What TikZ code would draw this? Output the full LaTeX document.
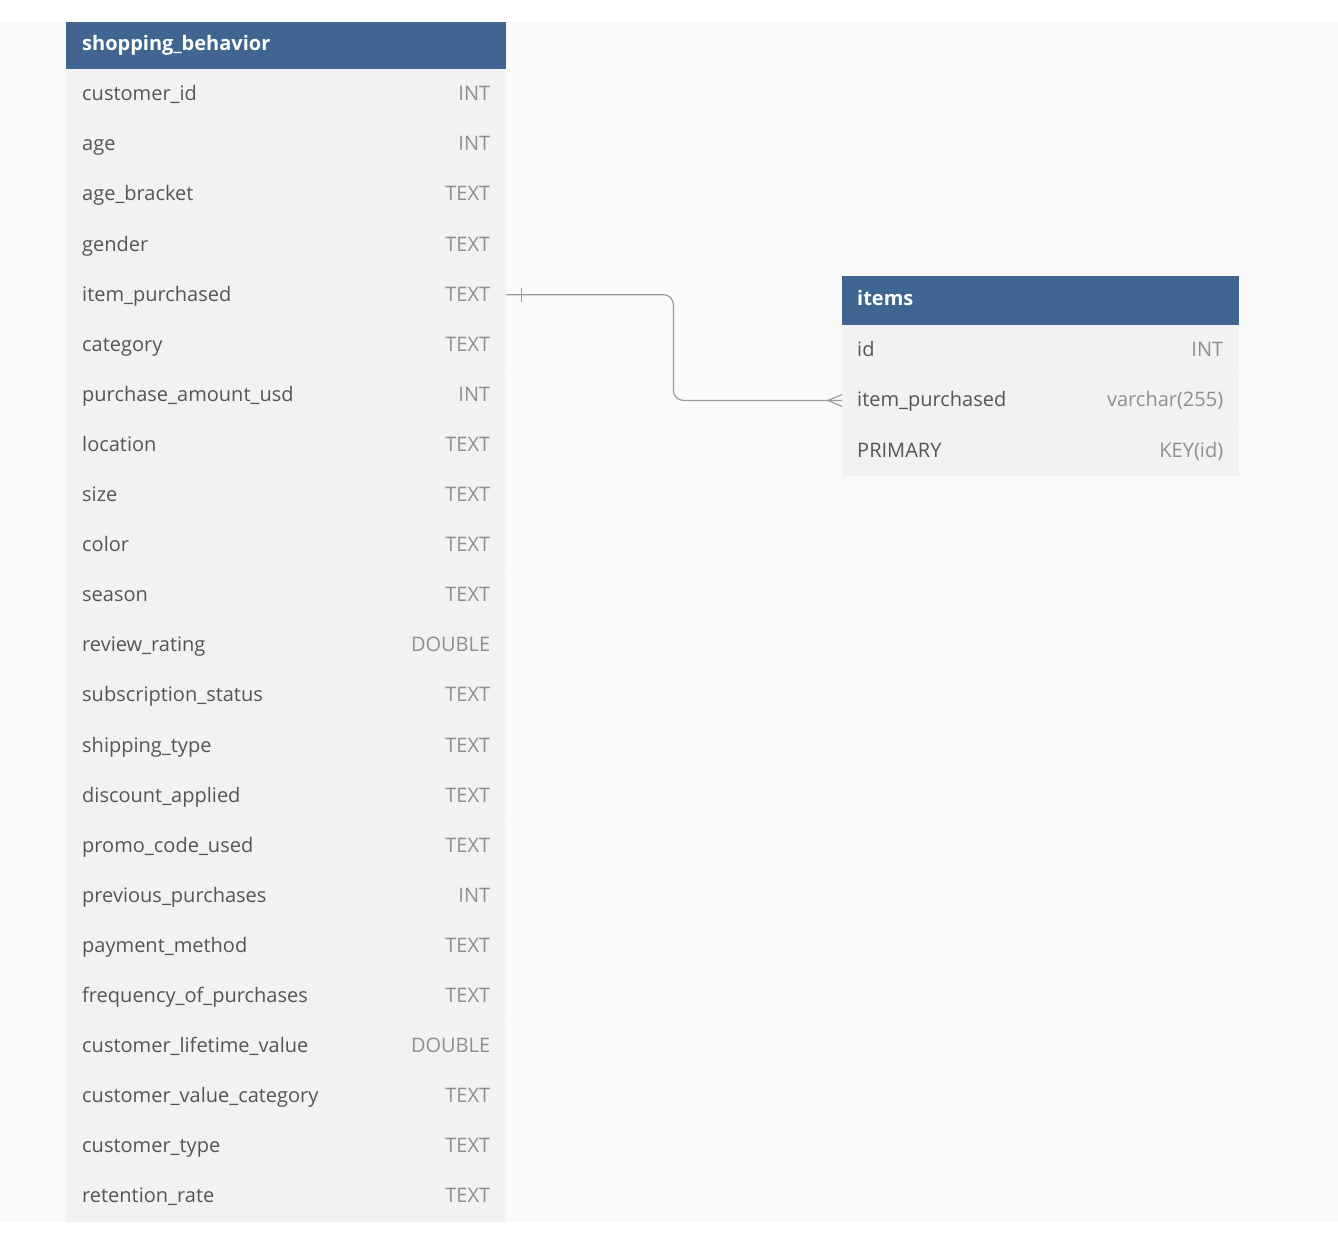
\documentclass[tikz,border=0pt]{standalone}
\usepackage{fontspec}
\setmainfont{Open Sans}
\usetikzlibrary{positioning}
\definecolor{hdblue}{HTML}{3F6590}
\definecolor{rowgray}{HTML}{F2F2F2}
\definecolor{bggray}{HTML}{FAFAFA}
\definecolor{namegray}{HTML}{555555}
\definecolor{typegray}{HTML}{8F8F8F}
\definecolor{relgray}{HTML}{9A9BA3}

\begin{document}
\begin{tikzpicture}[x=1pt, y=-1pt,
  font=\fontsize{20}{24}\selectfont,
  tblhead/.style={rectangle, fill=hdblue, inner sep=0pt, minimum height=47pt, anchor=north west},
  tblrow/.style={rectangle, fill=rowgray, inner sep=0pt, minimum height=50.1pt, anchor=north west},
  headtext/.style={text=white, font=\fontsize{20}{24}\selectfont\bfseries, anchor=west, inner sep=0pt,
    text height=14pt, text depth=5pt},
  colname/.style={text=namegray, anchor=west, inner sep=0pt, text height=16pt, text depth=3pt},
  coltype/.style={text=typegray, anchor=east, inner sep=0pt, text height=16pt, text depth=3pt},
  rel/.style={draw=relgray, line width=1.2pt}]
  \useasboundingbox (0,0) rectangle (1338,1245);
  \fill[bggray] (0,22) rectangle (1338,1222);

  % shopping_behavior table
  \node[tblhead, minimum width=440pt] (sb) at (66,22) {};
  \node[headtext] at ([xshift=16pt]sb.west) {shopping\_behavior};
  \foreach \i/\n/\t in {1/customer\_id/INT, 2/age/INT, 3/age\_bracket/TEXT, 4/gender/TEXT,
      5/item\_purchased/TEXT, 6/category/TEXT, 7/purchase\_amount\_usd/INT, 8/location/TEXT,
      9/size/TEXT, 10/color/TEXT, 11/season/TEXT, 12/review\_rating/DOUBLE,
      13/subscription\_status/TEXT, 14/shipping\_type/TEXT, 15/discount\_applied/TEXT,
      16/promo\_code\_used/TEXT, 17/previous\_purchases/INT, 18/payment\_method/TEXT,
      19/frequency\_of\_purchases/TEXT, 20/customer\_lifetime\_value/DOUBLE,
      21/customer\_value\_category/TEXT, 22/customer\_type/TEXT, 23/retention\_rate/TEXT}
  {
    \node[tblrow, minimum width=440pt] (sb-\i) at (66,{69+50.1*(\i-1)}) {};
    \node[colname] at ([xshift=16pt]sb-\i.west) {\n};
    \node[coltype] at ([xshift=-16pt]sb-\i.east) {\t};
  }
  \foreach \i in {1,...,22}
    \draw[white!25!rowgray, line width=0.6pt] (sb-\i.south west) -- (sb-\i.south east);

  % items table
  \node[tblhead, minimum width=397pt, minimum height=49pt] (it) at (842,276) {};
  \node[headtext] at ([xshift=15pt]it.west) {items};
  \foreach \i/\n/\t in {1/id/INT, 2/item\_purchased/varchar(255), 3/PRIMARY/KEY(id)}
  {
    \node[tblrow, minimum width=397pt] (it-\i) at (842,{325+50.2*(\i-1)}) {};
    \node[colname] at ([xshift=15pt]it-\i.west) {\n};
    \node[coltype] at ([xshift=-16pt]it-\i.east) {\t};
  }
  \foreach \i in {1,2}
    \draw[white!25!rowgray, line width=0.6pt] (it-\i.south west) -- (it-\i.south east);

  % relation item_purchased -> item_purchased
  \draw[rel, rounded corners=10pt] (sb-5.east) -- ++(167,0) |- (it-2.west);
  \draw[rel] ([xshift=15pt]sb-5.east) ++(0,-7) -- ++(0,14);
  \draw[rel] ([xshift=-14pt]it-2.west) -- ++(14,-6);
  \draw[rel] ([xshift=-14pt]it-2.west) -- ++(14,6);
\end{tikzpicture}
\end{document}
